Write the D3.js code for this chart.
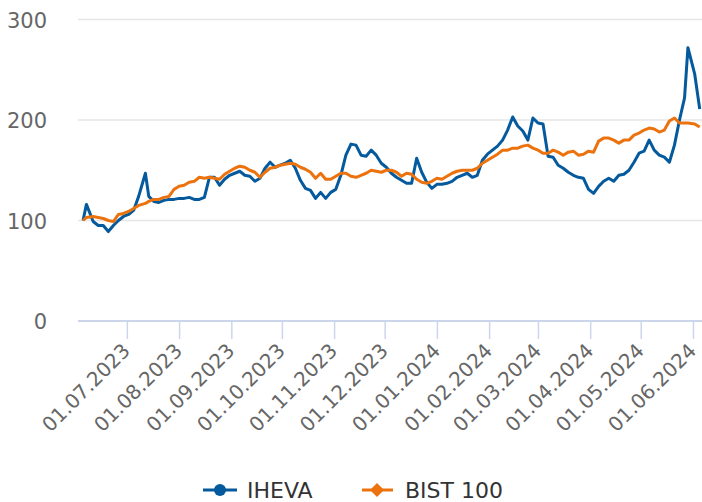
<!DOCTYPE html>
<meta charset="utf-8">
<script src="https://d3js.org/d3.v7.min.js"></script>
<style>
  body { margin: 0; background: #fff; }
</style>
<div id="my_dataviz"></div>
<script>
// dates shared by both series
var dates = [
  "2023-06-05","2023-06-07","2023-06-11","2023-06-14","2023-06-17","2023-06-20","2023-06-23","2023-06-26","2023-06-29","2023-07-02",
  "2023-07-05","2023-07-08","2023-07-12","2023-07-14","2023-07-17","2023-07-20","2023-07-23","2023-07-26","2023-07-29","2023-08-01",
  "2023-08-04","2023-08-07","2023-08-10","2023-08-13","2023-08-16","2023-08-19","2023-08-22","2023-08-25","2023-08-28","2023-08-31",
  "2023-09-03","2023-09-06","2023-09-09","2023-09-12","2023-09-15","2023-09-18","2023-09-21","2023-09-24","2023-09-27","2023-09-30",
  "2023-10-03","2023-10-06","2023-10-09","2023-10-12","2023-10-15","2023-10-18","2023-10-21","2023-10-24","2023-10-27","2023-10-30",
  "2023-11-02","2023-11-05","2023-11-08","2023-11-11","2023-11-14","2023-11-17","2023-11-20","2023-11-23","2023-11-26","2023-11-29",
  "2023-12-02","2023-12-05","2023-12-08","2023-12-11","2023-12-14","2023-12-17","2023-12-20","2023-12-23","2023-12-26","2023-12-29",
  "2024-01-01","2024-01-04","2024-01-07","2024-01-10","2024-01-13","2024-01-16","2024-01-19","2024-01-22","2024-01-25","2024-01-28",
  "2024-01-31","2024-02-03","2024-02-06","2024-02-09","2024-02-12","2024-02-15","2024-02-18","2024-02-21","2024-02-24","2024-02-27",
  "2024-03-01","2024-03-04","2024-03-07","2024-03-10","2024-03-13","2024-03-16","2024-03-19","2024-03-22","2024-03-25","2024-03-28",
  "2024-03-31","2024-04-03","2024-04-06","2024-04-09","2024-04-12","2024-04-15","2024-04-18","2024-04-21","2024-04-24","2024-04-27",
  "2024-04-30","2024-05-03","2024-05-06","2024-05-09","2024-05-12","2024-05-15","2024-05-18","2024-05-21","2024-05-24","2024-05-27",
  "2024-05-29","2024-06-02","2024-06-05"
];

var iheva = [
  100,116,99,95,95,89,95,100,104,106,
  110,124,147,124,119,118,120,121,121,122,
  122,123,121,121,123,143,143,135,141,145,
  147,149,145,144,139,142,152,158,153,155,
  157,160,152,140,132,130,122,128,122,128,
  131,145,165,176,175,165,164,170,165,157,
  153,147,143,140,137,137,162,148,138,132,
  136,136,137,139,143,145,147,143,145,160,
  166,170,174,180,190,203,194,189,180,202,
  197,196,164,163,155,152,148,145,143,142,
  131,127,134,139,142,139,145,146,150,158,
  167,169,180,170,165,163,158,175,200,222,
  272,246,211
];

var bist100 = [
  100,103,104,103,102,100,99,106,107,109,
  112,115,117,119,121,121,123,124,131,134,
  135,138,139,143,142,143,142,141,146,149,
  152,154,153,150,148,143,148,152,153,155,
  156,157,156,153,151,148,142,147,141,141,
  144,147,147,144,143,145,147,150,149,148,
  150,150,148,144,147,146,141,138,137,139,
  142,141,144,147,149,150,150,150,152,157,
  160,163,166,170,170,172,172,174,175,172,
  170,167,167,170,168,165,168,169,165,166,
  169,168,179,182,182,180,177,180,180,185,
  187,190,192,191,188,190,199,202,197,197,
  197,196,193
];

var seriesNames = ["IHEVA", "BIST 100"];
var yTicks = [0, 100, 200, 300];
var xTicks = ["2023-07-01","2023-08-01","2023-09-01","2023-10-01","2023-11-01","2023-12-01",
              "2024-01-01","2024-02-01","2024-03-01","2024-04-01","2024-05-01","2024-06-01"];

var width = 702, height = 502;
var blue = "#045a9c", orange = "#ec720e";
var font = "DejaVu Sans";

var parse = d3.timeParse("%Y-%m-%d");

var svg = d3.select("#my_dataviz")
  .append("svg")
    .attr("width", width)
    .attr("height", height);

var x = d3.scaleTime()
  .domain([parse("2023-06-02"), parse("2024-06-06")])
  .range([78, 701.4]);

var y = d3.scaleLinear()
  .domain([0, 300])
  .range([321, 19.5]);

// grid lines
svg.append("g")
  .selectAll("line")
  .data(yTicks.filter(function(d) { return d > 0; }))
  .enter()
  .append("line")
    .attr("x1", 78)
    .attr("x2", width)
    .attr("y1", function(d) { return y(d); })
    .attr("y2", function(d) { return y(d); })
    .attr("stroke", "#e6e6e6")
    .attr("stroke-width", 1.5);

// y labels
svg.append("g")
  .selectAll("text")
  .data(yTicks)
  .enter()
  .append("text")
    .attr("x", 47)
    .attr("y", function(d) { return y(d) + 8; })
    .attr("text-anchor", "end")
    .attr("font-family", font)
    .attr("font-size", 21)
    .attr("fill", "#666")
    .text(function(d) { return d; });

// x axis
var xAxis = svg.append("g")
  .attr("transform", "translate(0," + y(0) + ")")
  .call(d3.axisBottom(x)
    .tickValues(xTicks.map(parse))
    .tickFormat(d3.timeFormat("%d.%m.%Y"))
    .tickSize(18)
    .tickSizeOuter(0));

xAxis.select(".domain").remove();
xAxis.append("line")
  .attr("x1", 78)
  .attr("x2", width)
  .attr("stroke", "#ccd6eb")
  .attr("stroke-width", 2);
xAxis.selectAll(".tick line")
  .attr("stroke", "#ccd6eb")
  .attr("stroke-width", 1.5);
xAxis.selectAll(".tick text")
  .attr("x", 0)
  .attr("y", 0)
  .attr("dy", 0)
  .attr("transform", "translate(4,31) rotate(-45)")
  .attr("text-anchor", "end")
  .attr("font-family", font)
  .attr("font-size", 20)
  .attr("fill", "#666");

// lines
var rows = dates.map(function(d, i) {
  return { date: parse(d), a: iheva[i], b: bist100[i] };
});

svg.append("path")
  .datum(rows)
  .attr("fill", "none")
  .attr("stroke", blue)
  .attr("stroke-width", 3)
  .attr("stroke-linejoin", "round")
  .attr("d", d3.line()
    .x(function(d) { return x(d.date); })
    .y(function(d) { return y(d.a); }));

svg.append("path")
  .datum(rows)
  .attr("fill", "none")
  .attr("stroke", orange)
  .attr("stroke-width", 3)
  .attr("stroke-linejoin", "round")
  .attr("d", d3.line()
    .x(function(d) { return x(d.date); })
    .y(function(d) { return y(d.b); }));

// legend
var legend = svg.append("g").attr("transform", "translate(0,490)");

legend.append("line")
  .attr("x1", 203).attr("x2", 237)
  .attr("stroke", blue).attr("stroke-width", 3);
legend.append("circle")
  .attr("cx", 220).attr("r", 6)
  .attr("fill", blue);
legend.append("text")
  .attr("x", 247).attr("y", 7.5)
  .attr("font-family", font)
  .attr("font-size", 22)
  .attr("fill", "#333")
  .text(seriesNames[0]);

legend.append("line")
  .attr("x1", 362).attr("x2", 393)
  .attr("stroke", orange).attr("stroke-width", 3);
legend.append("path")
  .attr("transform", "translate(377,0)")
  .attr("d", "M0,-7L7,0L0,7L-7,0Z")
  .attr("fill", orange);
legend.append("text")
  .attr("x", 405).attr("y", 7.5)
  .attr("font-family", font)
  .attr("font-size", 22)
  .attr("fill", "#333")
  .text(seriesNames[1]);
</script>
